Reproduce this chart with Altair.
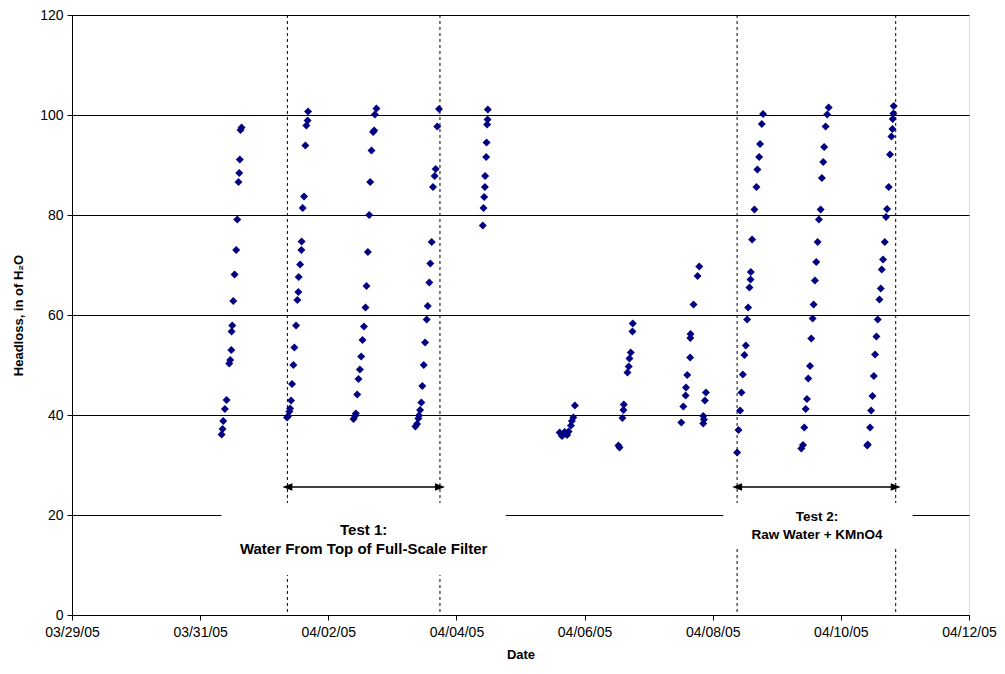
import altair as alt
import pandas as pd

BASE = pd.Timestamp("2005-03-29 00:00")

# Elapsed days since 03/29/05 00:00 and headloss (in of H2O), one run per list
run_a_days = [2.646, 2.630, 2.619, 2.610, 2.599, 2.579, 2.563, 2.537, 2.517, 2.501, 2.490, 2.486, 2.470, 2.454, 2.412, 2.386, 2.361, 2.350, 2.335]
run_a_head = [97.5, 97.0, 91.1, 88.4, 86.6, 79.1, 73.0, 68.1, 62.8, 57.9, 56.7, 53.0, 51.0, 50.3, 43.0, 41.2, 38.8, 37.2, 36.1]

run_b_days = [3.684, 3.678, 3.658, 3.642, 3.622, 3.600, 3.584, 3.580, 3.560, 3.538, 3.533, 3.518, 3.497, 3.471, 3.455, 3.435, 3.419, 3.404, 3.393, 3.373, 3.357]
run_b_head = [100.7, 98.9, 97.9, 93.9, 83.7, 81.4, 74.7, 73.0, 70.1, 67.6, 64.6, 63.0, 57.9, 53.5, 50.0, 46.2, 42.9, 41.3, 40.7, 39.8, 39.5]

run_c_days = [4.752, 4.727, 4.716, 4.700, 4.674, 4.654, 4.638, 4.618, 4.596, 4.581, 4.556, 4.534, 4.514, 4.493, 4.472, 4.451, 4.431, 4.416, 4.394]
run_c_head = [101.3, 100.1, 96.9, 96.6, 92.9, 86.6, 80.0, 72.6, 65.8, 61.5, 57.7, 55.0, 51.7, 49.1, 47.2, 44.1, 40.3, 39.8, 39.2]

run_d_days = [5.728, 5.701, 5.676, 5.661, 5.634, 5.614, 5.592, 5.577, 5.552, 5.536, 5.510, 5.490, 5.468, 5.452, 5.432, 5.416, 5.405, 5.385, 5.359]
run_d_head = [101.2, 97.7, 89.2, 87.8, 85.6, 74.6, 70.3, 66.5, 61.8, 59.1, 54.5, 50.0, 45.8, 42.5, 41.0, 39.9, 39.3, 38.2, 37.7]

run_e_days = [6.490, 6.486, 6.479, 6.470, 6.464, 6.448, 6.444, 6.433, 6.423, 6.412]
run_e_head = [101.1, 99.1, 98.1, 94.5, 91.6, 87.8, 85.6, 83.6, 81.4, 77.9]

run_f_days = [7.611, 7.647, 7.668, 7.689, 7.709, 7.728, 7.751, 7.787, 7.802, 7.824, 7.849]
run_f_head = [36.5, 35.8, 36.1, 36.6, 36.3, 36.0, 36.7, 37.9, 38.8, 39.5, 41.9]

run_g_days = [8.752, 8.747, 8.721, 8.700, 8.690, 8.669, 8.612, 8.607, 8.591, 8.545, 8.529]
run_g_head = [58.3, 56.7, 52.5, 51.3, 49.7, 48.5, 42.1, 41.0, 39.4, 33.5, 33.9]

run_h_days = [9.790, 9.764, 9.701, 9.654, 9.650, 9.647, 9.603, 9.583, 9.577, 9.541, 9.510]
run_h_head = [69.7, 67.8, 62.1, 56.2, 55.4, 51.5, 48.0, 45.5, 43.9, 41.7, 38.5]

run_h2_days = [9.894, 9.878, 9.863, 9.852, 9.852]
run_h2_head = [44.5, 42.9, 39.1, 39.8, 38.3]

run_i_days = [10.786, 10.766, 10.739, 10.724, 10.697, 10.682, 10.651, 10.615, 10.595, 10.591, 10.573, 10.553, 10.537, 10.517, 10.495, 10.470, 10.448, 10.428, 10.402, 10.381]
run_i_head = [100.2, 98.2, 94.2, 91.6, 89.1, 85.6, 81.1, 75.1, 68.6, 67.1, 65.5, 61.5, 59.1, 53.9, 52.0, 48.1, 44.5, 40.9, 37.0, 32.5]

run_j_days = [11.809, 11.787, 11.762, 11.740, 11.725, 11.704, 11.684, 11.658, 11.637, 11.616, 11.595, 11.575, 11.559, 11.538, 11.518, 11.491, 11.471, 11.451, 11.429, 11.409, 11.383]
run_j_head = [101.5, 100.1, 97.7, 93.6, 90.6, 87.4, 81.1, 79.1, 74.6, 70.6, 66.9, 62.1, 59.3, 55.3, 49.8, 47.3, 43.2, 41.2, 37.5, 34.0, 33.3]

run_k_days = [12.825, 12.820, 12.809, 12.805, 12.789, 12.767, 12.747, 12.721, 12.705, 12.685, 12.659, 12.638, 12.623, 12.602, 12.576, 12.555, 12.534, 12.514, 12.493, 12.471, 12.456, 12.420, 12.412]
run_k_head = [101.8, 100.3, 99.2, 97.2, 95.7, 92.1, 85.6, 81.2, 79.6, 74.6, 71.1, 69.1, 65.3, 63.1, 59.1, 55.7, 52.1, 47.8, 43.8, 40.9, 37.5, 34.1, 33.9]

# Test period boundaries
test_start = ["2005-04-01 08:41", "2005-04-08 09:08"]
test_end = ["2005-04-03 17:50", "2005-04-10 20:33"]
test_line1 = ["Test 1:", "Test 2:"]
test_line2 = ["Water From Top of Full-Scale Filter", "Raw Water + KMnO4"]
test_label_x = ["2005-04-02 13:15", "2005-04-09 15:03"]
test_label_y1 = [17.0, 19.6]
test_label_y2 = [13.2, 16.0]
test_font = [15, 13.5]
box_x1 = ["2005-03-31 08:02", "2005-04-08 03:55"]
box_x2 = ["2005-04-04 18:29", "2005-04-11 02:54"]
box_y1 = [8.0, 13.4]
box_y2 = [22.4, 22.4]
arrow_y = 25.6

tick_dates = ["2005-03-29", "2005-03-31", "2005-04-02", "2005-04-04", "2005-04-06", "2005-04-08", "2005-04-10", "2005-04-12"]
y_ticks = [0, 20, 40, 60, 80, 100, 120]

days = (run_a_days + run_b_days + run_c_days + run_d_days + run_e_days + run_f_days +
        run_g_days + run_h_days + run_h2_days + run_i_days + run_j_days + run_k_days)
heads = (run_a_head + run_b_head + run_c_head + run_d_head + run_e_head + run_f_head +
         run_g_head + run_h_head + run_h2_head + run_i_head + run_j_head + run_k_head)
pts = pd.DataFrame({
    "Date": [(BASE + pd.to_timedelta(d, unit="D")).strftime("%Y-%m-%dT%H:%M:%S") for d in days],
    "Headloss": heads,
})


def iso(s):
    return s.replace(" ", "T") + ":00"


bounds = pd.DataFrame({"t": [iso(s) for s in test_start + test_end]})
tests = pd.DataFrame({
    "start": [iso(s) for s in test_start],
    "end": [iso(s) for s in test_end],
    "y": [arrow_y, arrow_y],
    "l1": test_line1, "l2": test_line2,
    "lx": [iso(s) for s in test_label_x],
    "ly1": test_label_y1, "ly2": test_label_y2, "fs": test_font,
    "bx1": [iso(s) for s in box_x1],
    "bx2": [iso(s) for s in box_x2],
    "by1": box_y1, "by2": box_y2,
})

FONT = "Liberation Sans"
xscale = alt.Scale(domain=[alt.DateTime(year=2005, month=3, date=29), alt.DateTime(year=2005, month=4, date=12)])
yscale = alt.Scale(domain=[0, 120])

xaxis = alt.Axis(values=[alt.DateTime(year=int(d[:4]), month=int(d[5:7]), date=int(d[8:10])) for d in tick_dates],
                 format="%m/%d/%y", grid=False, title="Date", labelFontSize=14, titleFontSize=13,
                 titleFontWeight="bold", labelColor="black", titleColor="black", domainColor="black",
                 tickColor="black", tickSize=5, labelPadding=5, titlePadding=9, labelFont=FONT, titleFont=FONT,
                 labelFlush=False)
yaxis = alt.Axis(values=y_ticks, grid=True, gridColor="black", gridWidth=1, title="Headloss, in of H₂O",
                 labelFontSize=14, titleFontSize=13, titleFontWeight="bold", labelColor="black",
                 titleColor="black", domainColor="black", tickColor="black", tickSize=5, labelPadding=4,
                 titlePadding=14, labelFont=FONT, titleFont=FONT)

points = alt.Chart(pts).mark_point(shape="diamond", filled=True, color="#000080", size=64, opacity=1).encode(
    x=alt.X("Date:T", scale=xscale, axis=xaxis),
    y=alt.Y("Headloss:Q", scale=yscale, axis=yaxis),
)

vlines = alt.Chart(bounds).mark_rule(color="black", strokeDash=[3, 3], strokeWidth=1).encode(
    x=alt.X("t:T", scale=xscale)
)

arrows = alt.Chart(tests).mark_rule(color="black", strokeWidth=1.4).encode(
    x=alt.X("start:T", scale=xscale), x2="end:T", y=alt.Y("y:Q", scale=yscale)
)
head_l = alt.Chart(tests).mark_point(shape="M-1,0L1,-0.75L1,0.75Z", filled=True, color="black", size=100,
                                     opacity=1, dx=5).encode(
    x=alt.X("start:T", scale=xscale), y=alt.Y("y:Q", scale=yscale)
)
head_r = alt.Chart(tests).mark_point(shape="M1,0L-1,-0.75L-1,0.75Z", filled=True, color="black", size=100,
                                     opacity=1, dx=-5).encode(
    x=alt.X("end:T", scale=xscale), y=alt.Y("y:Q", scale=yscale)
)
boxes = alt.Chart(tests).mark_rect(color="white", opacity=1).encode(
    x=alt.X("bx1:T", scale=xscale), x2="bx2:T",
    y=alt.Y("by1:Q", scale=yscale), y2="by2:Q",
)
text1 = alt.Chart(tests).mark_text(font=FONT, fontWeight="bold", color="black", baseline="middle",
                                   align="center").encode(
    x=alt.X("lx:T", scale=xscale), y=alt.Y("ly1:Q", scale=yscale), text="l1:N",
    size=alt.Size("fs:Q", scale=None, legend=None),
)
text2 = alt.Chart(tests).mark_text(font=FONT, fontWeight="bold", color="black", baseline="middle",
                                   align="center").encode(
    x=alt.X("lx:T", scale=xscale), y=alt.Y("ly2:Q", scale=yscale), text="l2:N",
    size=alt.Size("fs:Q", scale=None, legend=None),
)

chart = alt.layer(points, vlines, arrows, head_l, head_r, boxes, text1, text2).properties(
    width=897, height=600,
    autosize=alt.AutoSizeParams(type="none"),
    padding={"left": 64, "top": 7, "right": 28, "bottom": 51},
).configure_view(stroke="#808080", strokeWidth=1).configure(background="white")

chart.save("out.html", embed_options={"renderer": "svg", "actions": False})
